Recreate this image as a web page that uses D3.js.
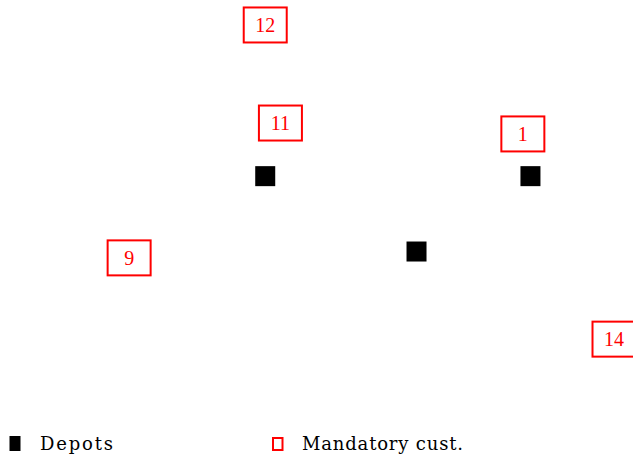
<!DOCTYPE html>
<html>
<head>
<meta charset="utf-8">
<script src="https://cdn.jsdelivr.net/npm/d3@7"></script>
<style>
  html, body { margin: 0; padding: 0; background: #fff; }
  svg { display: block; }
  text { font-family: "DejaVu Serif", "Liberation Serif", serif; }
</style>
</head>
<body>
<svg id="chart" width="633" height="454"></svg>
<script>
// Depot locations (map units)
const depotX = [41.9, 83.8, 65.8];
const depotY = [61.2, 61.2, 44.6];

// Mandatory customers: id and location (map units)
const custIds = ["12", "11", "1", "9", "14"];
const custX = [41.9, 44.3, 82.6, 20.4, 97.0];
const custY = [94.5, 72.9, 70.5, 43.2, 25.3];

// Legend entries
const legendLabels = ["Depots", "Mandatory cust."];

const W = 633, H = 454;
const svg = d3.select("#chart");

const x = d3.scaleLinear().domain([0, 100]).range([0, W]);
const y = d3.scaleLinear().domain([0, 100]).range([H, 0]);

const depotSize = 20;
const boxW = 43, boxH = 35;

// Depots: filled black squares
svg.append("g").selectAll("rect")
  .data(depotX.map((d, i) => ({ x: d, y: depotY[i] })))
  .join("rect")
  .attr("x", d => x(d.x) - depotSize / 2)
  .attr("y", d => y(d.y) - depotSize / 2)
  .attr("width", depotSize)
  .attr("height", depotSize)
  .attr("fill", "#000");

// Customers: red framed labels
const cust = svg.append("g").selectAll("g")
  .data(custIds.map((id, i) => ({ id, x: custX[i], y: custY[i] })))
  .join("g")
  .attr("transform", d => `translate(${x(d.x)},${y(d.y)})`);

cust.append("rect")
  .attr("x", -boxW / 2)
  .attr("y", -boxH / 2)
  .attr("width", boxW)
  .attr("height", boxH)
  .attr("fill", "#fff")
  .attr("stroke", "#ff0000")
  .attr("stroke-width", 2);

cust.append("text")
  .attr("text-anchor", "middle")
  .attr("dy", "0.36em")
  .attr("fill", "#ff0000")
  .attr("font-size", 20)
  .style("font-family", "'Liberation Serif', serif")
  .text(d => d.id);

// Legend
const legend = svg.append("g");
legend.append("rect")
  .attr("x", 9.5).attr("y", 436)
  .attr("width", 11).attr("height", 15)
  .attr("fill", "#000");
legend.append("text")
  .attr("x", 40).attr("y", 450)
  .attr("font-size", 18)
  .attr("fill", "#000")
  .attr("textLength", 73)
  .attr("lengthAdjust", "spacing")
  .text(legendLabels[0]);

legend.append("rect")
  .attr("x", 273).attr("y", 438)
  .attr("width", 9.5).attr("height", 12)
  .attr("fill", "none")
  .attr("stroke", "#ff0000")
  .attr("stroke-width", 2);
legend.append("text")
  .attr("x", 302).attr("y", 450)
  .attr("font-size", 18)
  .attr("fill", "#000")
  .attr("textLength", 161)
  .attr("lengthAdjust", "spacing")
  .text(legendLabels[1]);
</script>
</body>
</html>
